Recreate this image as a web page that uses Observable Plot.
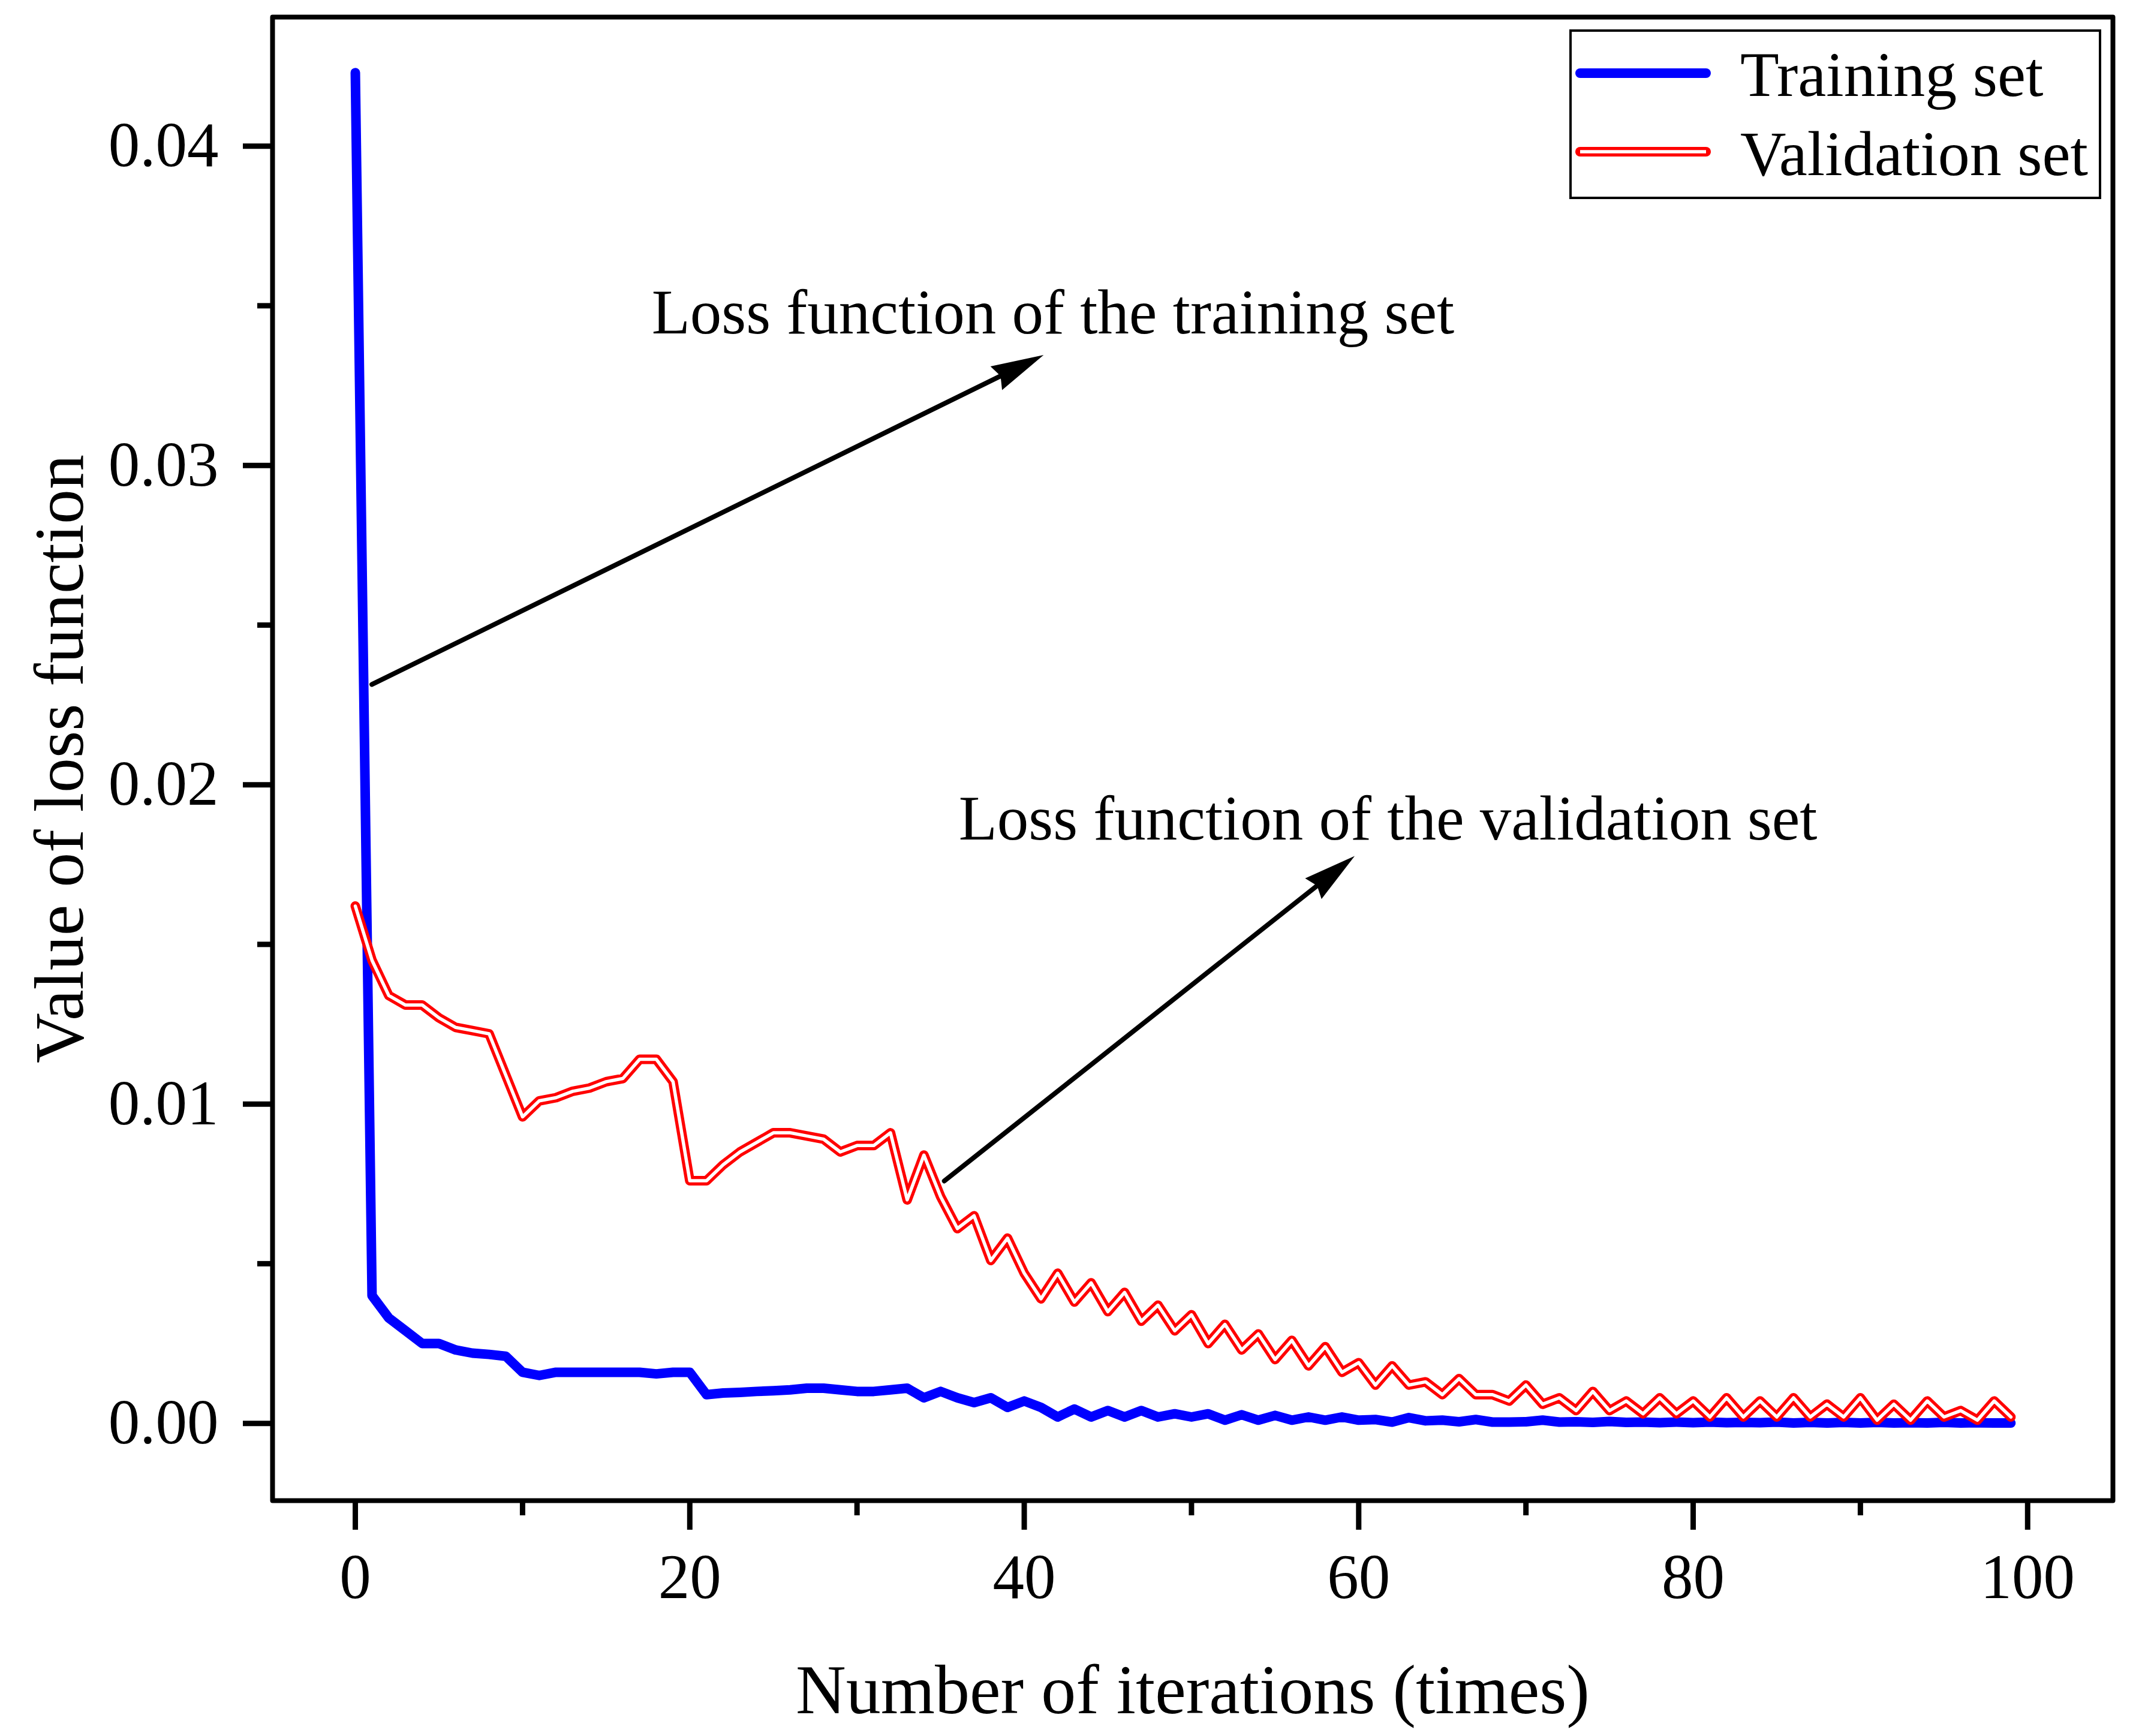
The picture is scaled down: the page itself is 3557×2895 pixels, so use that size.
<!DOCTYPE html>
<html lang="en">
<head>
    <meta charset="UTF-8">
    <title>Loss function</title>
    <script src="https://cdn.jsdelivr.net/npm/d3@7"></script>
    <script src="https://cdn.jsdelivr.net/npm/@observablehq/plot@0.6/dist/plot.umd.min.js"></script>
    <style>
        body { margin: 0; background: white; }
        #chart { position: relative; width: 3557px; height: 2895px; }
    </style>
</head>
<body>

<div id="chart"></div>

<script>
// values
const iterations = d3.range(100);

const trainLoss = [
  0.0423, 0.0040, 0.0033, 0.0029, 0.0025, 0.0025, 0.0023, 0.0022, 0.00216, 0.0021,
  0.0016, 0.0015, 0.0016, 0.0016, 0.0016, 0.0016, 0.0016, 0.0016, 0.00155, 0.0016,
  0.0016, 0.0009, 0.00095, 0.00097, 0.0010, 0.00102, 0.00105, 0.0011, 0.0011, 0.00105,
  0.0010, 0.0010, 0.00105, 0.0011, 0.0008, 0.0010, 0.0008, 0.00065, 0.0008, 0.0005,
  0.0007, 0.0005, 0.0002, 0.00045, 0.0002, 0.0004, 0.0002, 0.0004, 0.0002, 0.0003,
  0.0002, 0.0003, 0.0001, 0.00027, 0.0001, 0.00025, 0.0001, 0.0002, 0.0001, 0.0002,
  0.0001, 0.00012, 0.00004, 0.00018, 0.00008, 0.0001, 0.00005, 0.00012, 0.00004, 0.00004,
  0.00005, 0.0001, 0.00004, 0.00005, 0.00003, 0.00006, 0.00003, 0.00004, 0.00002, 0.00004,
  0.00002, 0.00004, 0.00002, 0.00003, 0.00002, 0.00004, 0.00001, 0.00003, 0.00001, 0.00003,
  0.00001, 0.00003, 0.00001, 0.00002, 0.00001, 0.00003, 0.00001, 0.00002, 0.00001, 0.00001
];

const validLoss = [
  0.0162, 0.0145, 0.0134, 0.0131, 0.0131, 0.0127, 0.0124, 0.0123, 0.0122, 0.0109,
  0.0096, 0.0101, 0.0102, 0.0104, 0.0105, 0.0107, 0.0108, 0.0114, 0.0114, 0.0107,
  0.0076, 0.0076, 0.0081, 0.0085, 0.0088, 0.0091, 0.0091, 0.0090, 0.0089, 0.0085,
  0.0087, 0.0087, 0.0091, 0.0070, 0.0084, 0.0071, 0.0061, 0.0065, 0.0051, 0.0058,
  0.0047, 0.0039, 0.0047, 0.0038, 0.0044, 0.0035, 0.0041, 0.0032, 0.0037, 0.0029,
  0.0034, 0.0025, 0.0031, 0.0023, 0.0028, 0.0020, 0.0026, 0.0018, 0.0024, 0.0016,
  0.0019, 0.0012, 0.0018, 0.0012, 0.0013, 0.0009, 0.0014, 0.0009, 0.0009, 0.0007,
  0.0012, 0.0006, 0.0008, 0.0004, 0.0010, 0.0004, 0.0007, 0.0003, 0.0008, 0.0003,
  0.0007, 0.0002, 0.0008, 0.0002, 0.0007, 0.0002, 0.0008, 0.0002, 0.0006, 0.0002,
  0.0008, 0.0001, 0.0006, 0.0001, 0.0007, 0.0002, 0.0004, 0.0001, 0.0007, 0.0002
];

const xTicks = [0, 20, 40, 60, 80, 100];
const xMinorTicks = [10, 30, 50, 70, 90];
const yTicks = [0, 0.01, 0.02, 0.03, 0.04];
const yMinorTicks = [0.005, 0.015, 0.025, 0.035];

const seriesNames = ["Training set", "Validation set"];

// annotation arrows and labels, in data units
const arrows = [
  {x1: 0.99, y1: 0.02314, x2: 41.16, y2: 0.03346},
  {x1: 35.22, y1: 0.00759, x2: 59.76, y2: 0.01777}
];
const notes = [
  {x: 17.72, y: 0.03414, text: "Loss function of the training set"},
  {x: 36.08, y: 0.01829, text: "Loss function of the validation set"}
];

// layout
const width = 3557, height = 2895;
const margin = {top: 28, right: 34, bottom: 393, left: 454};
const xDomain = [-4.95, 105.1];
const yDomain = [-0.00242, 0.04404];
const font = "'Liberation Serif', 'Times New Roman', serif";

const rows = iterations.map((it, i) => ({it, train: trainLoss[i], valid: validLoss[i]}));

// pixel angle of each arrow, for rotating the heads
const sx = d3.scaleLinear(xDomain, [margin.left, width - margin.right]);
const sy = d3.scaleLinear(yDomain, [height - margin.bottom, margin.top]);
const headAngle = d => {
  const dx = sx(d.x2) - sx(d.x1), dy = sy(d.y2) - sy(d.y1);
  return Math.atan2(dx, -dy) * 180 / Math.PI;
};

// filled arrowhead, tip at the origin pointing up
const arrowHead = {
  draw(context) {
    context.moveTo(0, 0);
    context.lineTo(-22, 88);
    context.lineTo(0, 80);
    context.lineTo(22, 88);
    context.closePath();
  }
};

const plot = Plot.plot({
  width, height,
  marginTop: margin.top, marginRight: margin.right,
  marginBottom: margin.bottom, marginLeft: margin.left,
  style: {fontFamily: font, fontSize: "105px", background: "white", color: "black"},
  x: {domain: xDomain},
  y: {domain: yDomain},
  marks: [
    Plot.axisX(xTicks, {tickSize: 49, tickPadding: 39, strokeWidth: 9, label: null, fontSize: 105}),
    Plot.axisX(xMinorTicks, {tickSize: 25, strokeWidth: 9, tickFormat: () => "", label: null}),
    Plot.axisY(yTicks, {tickSize: 49, tickPadding: 41, strokeWidth: 9, tickFormat: d3.format(".2f"), label: null, fontSize: 105}),
    Plot.axisY(yMinorTicks, {tickSize: 25, strokeWidth: 9, tickFormat: () => "", label: null}),
    Plot.line(rows, {x: "it", y: "train", stroke: "#0000ff", strokeWidth: 16, strokeLinejoin: "round", strokeLinecap: "round"}),
    Plot.line(rows, {x: "it", y: "valid", stroke: "#ff0000", strokeWidth: 16, strokeLinejoin: "round", strokeLinecap: "round"}),
    Plot.line(rows, {x: "it", y: "valid", stroke: "white", strokeWidth: 5.5, strokeLinejoin: "round", strokeLinecap: "round"}),
    Plot.arrow(arrows, {x1: "x1", y1: "y1", x2: "x2", y2: "y2", stroke: "black", strokeWidth: 8, headLength: 0, insetEnd: 70}),
    Plot.dot(arrows, {x: "x2", y: "y2", symbol: arrowHead, fill: "black", stroke: "none", r: 10, rotate: headAngle}),
    Plot.text(notes, {x: "x", y: "y", text: "text", textAnchor: "start", lineAnchor: "bottom", fontSize: 105, fill: "black"}),
    Plot.text(["Number of iterations (times)"], {frameAnchor: "bottom", text: d => d, dy: 354, textAnchor: "middle", lineAnchor: "bottom", fontSize: 116, fill: "black"}),
    Plot.text(["Value of loss function"], {frameAnchor: "left", text: d => d, dx: -317, rotate: -90, textAnchor: "middle", lineAnchor: "bottom", fontSize: 116, fill: "black"}),
    Plot.frame({stroke: "black", strokeWidth: 8, strokeLinejoin: "round"})
  ]
});

const chart = document.querySelector("#chart");
chart.append(plot);

// legend box drawn over the top right of the frame
const legend = d3.select(chart).append("svg")
  .attr("width", width).attr("height", height)
  .style("position", "absolute").style("left", "0px").style("top", "0px")
  .style("pointer-events", "none");

legend.append("rect")
  .attr("x", 2619).attr("y", 51).attr("width", 883).attr("height", 279)
  .attr("fill", "white").attr("stroke", "black").attr("stroke-width", 4);

const swatchY = [122, 253];
const labelY = [160, 292];

legend.append("line")
  .attr("x1", 2635).attr("x2", 2845).attr("y1", swatchY[0]).attr("y2", swatchY[0])
  .attr("stroke", "#0000ff").attr("stroke-width", 16).attr("stroke-linecap", "round");
legend.append("line")
  .attr("x1", 2635).attr("x2", 2845).attr("y1", swatchY[1]).attr("y2", swatchY[1])
  .attr("stroke", "#ff0000").attr("stroke-width", 16).attr("stroke-linecap", "round");
legend.append("line")
  .attr("x1", 2635).attr("x2", 2845).attr("y1", swatchY[1]).attr("y2", swatchY[1])
  .attr("stroke", "white").attr("stroke-width", 5.5);

legend.selectAll("text.lbl")
  .data(seriesNames)
  .join("text")
  .attr("class", "lbl")
  .attr("x", 2902)
  .attr("y", (d, i) => labelY[i])
  .attr("font-family", font)
  .attr("font-size", 106)
  .attr("fill", "black")
  .text(d => d);
</script>
</body>
</html>
